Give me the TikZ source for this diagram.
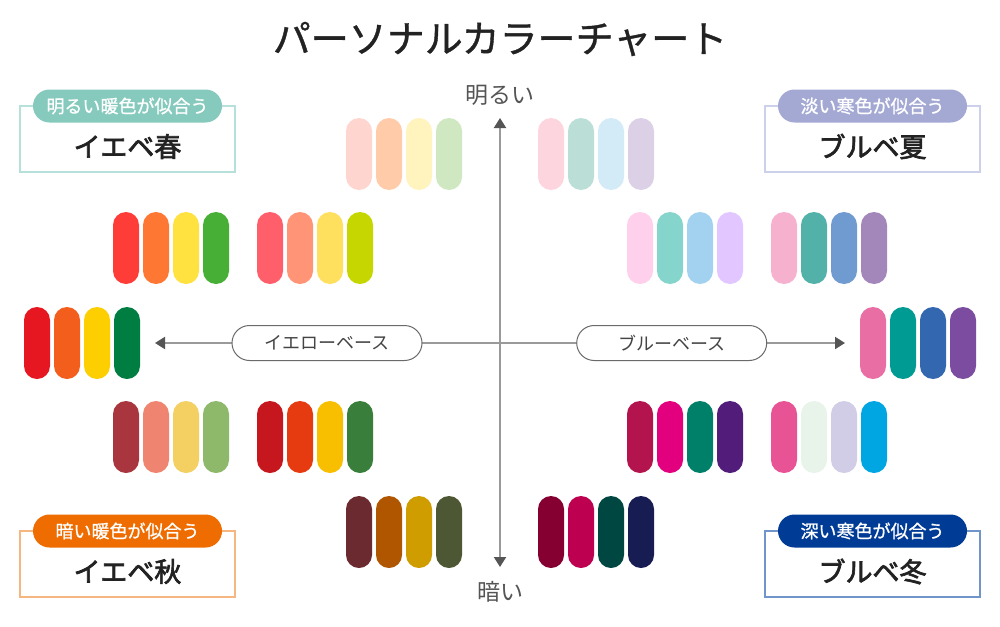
\documentclass[tikz,border=0pt]{standalone}
\usepackage{fontspec}
\setmainfont{Noto Sans CJK JP}
\newfontfamily\jpmed[FakeBold=2.5]{Noto Sans CJK JP}
\newfontfamily\jpsemi[FakeBold=1]{Noto Sans CJK JP}
\usetikzlibrary{arrows.meta}
\definecolor{ink}{HTML}{222222}
\definecolor{axisgray}{HTML}{9A9A9A}
\definecolor{tipgray}{HTML}{555555}
\definecolor{labgray}{HTML}{444444}
\definecolor{pillborder}{HTML}{6A6A6A}
\definecolor{sprA}{HTML}{86CABE}\definecolor{sprB}{HTML}{B6E0DA}
\definecolor{sumA}{HTML}{A4A9D4}\definecolor{sumB}{HTML}{CDD0EA}
\definecolor{autA}{HTML}{EE6C00}\definecolor{autB}{HTML}{F5B67F}
\definecolor{winA}{HTML}{003C96}\definecolor{winB}{HTML}{6F95C9}
\tikzset{
  pill/.style={rounded corners=13pt},
  frame/.style={line width=1.5pt},
  tagpill/.style={rounded corners=16.5pt, minimum width=189pt, minimum height=33pt, inner sep=0pt, text=white, font=\fontsize{18}{18}\jpsemi},
  maintext/.style={text=ink, font=\fontsize{27}{27}\jpmed, inner sep=0pt},
  axisline/.style={draw=axisgray, line width=2pt, >={Triangle[length=10pt,width=12pt,color=tipgray]}},
  baselabel/.style={draw=pillborder, line width=1pt, fill=white, rounded corners=17.5pt, minimum width=190pt, minimum height=35pt, inner sep=0pt, text=labgray, font=\fontsize{18}{18}\selectfont},
  axislabel/.style={text=tipgray, font=\fontsize{23}{23}\selectfont, inner sep=0pt},
}
\newcommand\pillset[6]{%
  \definecolor{pa}{HTML}{#3}\definecolor{pb}{HTML}{#4}\definecolor{pc}{HTML}{#5}\definecolor{pd}{HTML}{#6}%
  \fill[pill,pa] (#1,#2) rectangle ++(26,72);
  \fill[pill,pb] (#1+30,#2) rectangle ++(26,72);
  \fill[pill,pc] (#1+60,#2) rectangle ++(26,72);
  \fill[pill,pd] (#1+90,#2) rectangle ++(26,72);
}
\newcommand\seasonbox[7]{%
  \draw[frame,#4] (#2,#3) rectangle ++(215,66);
  \node[tagpill,fill=#5] (#1tag) at (#2+107.5,#3) {#6};
  \node[maintext] (#1main) at (#2+107.5,#3+40.5) {#7};
}
\begin{document}
\begin{tikzpicture}[x=1pt,y=-1pt]
\fill[white] (0,0) rectangle (1000,626);
\useasboundingbox (0,0) rectangle (1000,626);

\node[text=ink, font=\fontsize{38}{38}\jpsemi, inner sep=0pt] (title) at (500,39) {パーソナルカラーチャート};

% axes
\coordinate (top) at (500,118);
\coordinate (bottom) at (500,567);
\coordinate (left) at (155,343);
\coordinate (right) at (845,343);
\draw[axisline, <->] (bottom) -- (top);
\draw[axisline, <->] (right) -- (left);
\node[baselabel] (yellowbase) at (327,343) {イエローベース};
\node[baselabel] (bluebase) at (671.7,343) {ブルーベース};
\node[axislabel] (bright) at (500,95) {明るい};
\node[axislabel] (dark) at (500,592) {暗い};

% pills
\pillset{346}{118}{FFD5D0}{FFCBA8}{FFF3BE}{CFE8C2}
\pillset{538}{118}{FDD5DF}{BBDFD6}{D3EAF7}{DBD0E5}
\pillset{113}{212}{FF3D38}{FF7833}{FFE13F}{47AF36}
\pillset{257}{212}{FF5F6A}{FF9477}{FFE05E}{C5D600}
\pillset{627}{212}{FFD0EC}{86D5CC}{A2D2F0}{E1C6FF}
\pillset{771}{212}{F5B1CE}{52B1A8}{6F9BD1}{A487BA}
\pillset{24}{307}{E61720}{F45E1C}{FECF00}{007E42}
\pillset{860}{307}{E86EA4}{009B92}{3367AF}{7B4CA0}
\pillset{113}{401}{A9363E}{EF8570}{F3D061}{8FB96A}
\pillset{257}{401}{C5171D}{E63A10}{F8BE00}{397E3B}
\pillset{627}{401}{B3144E}{E3007F}{008068}{521C7B}
\pillset{771}{401}{E75395}{E8F4EA}{D1CDE6}{00A6E2}
\pillset{346}{496}{6B2A2F}{B05500}{D09D00}{4D5733}
\pillset{538}{496}{850030}{BD0050}{004742}{171D52}

% season boxes
\seasonbox{spring}{20}{106}{sprB}{sprA}{明るい暖色が似合う}{イエベ春}
\seasonbox{summer}{765}{106}{sumB}{sumA}{淡い寒色が似合う}{ブルベ夏}
\seasonbox{autumn}{20}{531}{autB}{autA}{暗い暖色が似合う}{イエベ秋}
\seasonbox{winter}{765}{531}{winB}{winA}{深い寒色が似合う}{ブルベ冬}
\end{tikzpicture}
\end{document}
